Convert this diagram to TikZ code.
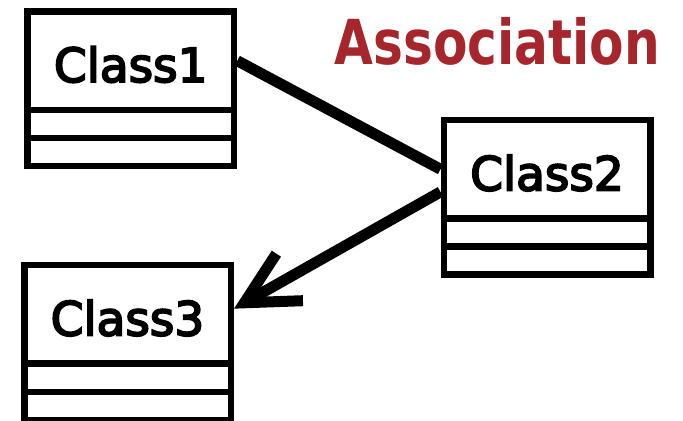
\documentclass[tikz,border=0pt]{standalone}
\usepackage{fontspec}
\setmainfont{DejaVu Sans}
\newfontfamily\classfont{DejaVu Sans}[FakeBold=4]
\usepackage{graphicx}
\usetikzlibrary{arrows.meta}

\definecolor{assocred}{RGB}{166,38,44}

\tikzset{
  classname/.style={draw, line width=3.25pt, minimum width=103.25pt, minimum height=49.25pt,
    inner sep=0pt, text height=21.25pt, text depth=0pt, font=\classfont\fontsize{23.5}{27}\selectfont},
  compart/.style={draw, line width=3.25pt, minimum width=103.25pt, minimum height=14pt, inner sep=0pt},
  assoc/.style={line width=5.5pt},
}

\begin{document}
\begin{tikzpicture}[x=0.5pt, y=-0.5pt]
		\useasboundingbox (0,0) rectangle (683,421);
		
		% Class1 with its two empty compartments
		\node[classname] (n1) at (130.75, 60.75) {Class1};
		\node[compart] (a1) at (130.75, 124.25) {};
		\node[compart] (o1) at (130.75, 152.25) {};
		
		% Class2
		\node[classname] (n2) at (547, 169.25) {Class2};
		\node[compart] (a2) at (547, 232.75) {};
		\node[compart] (o2) at (547, 260.75) {};
		
		% Class3 (cut at the bottom edge)
		\node[classname] (n3) at (127.5, 314.25) {Class3};
		\node[compart] (a3) at (127.5, 377.75) {};
		\node[compart] (o3) at (127.5, 405.75) {};
		
		% Title
		\node[anchor=base west, inner sep=0pt, text=assocred, font=\fontsize{31}{36}\selectfont\bfseries]
			(title) at (334, 65) {\scalebox{0.81}[1]{Association}};
		
		% Plain association between Class1 and Class2
		\draw[assoc] (n1.east) -- (n2.west);
		
		% Navigable association from Class2 to Class3
		\draw[assoc, -{Straight Barb[sharp, length=26pt, width=27pt]}] (n2.192.5) -- (n3.3);
		
	\end{tikzpicture}
\end{document}
